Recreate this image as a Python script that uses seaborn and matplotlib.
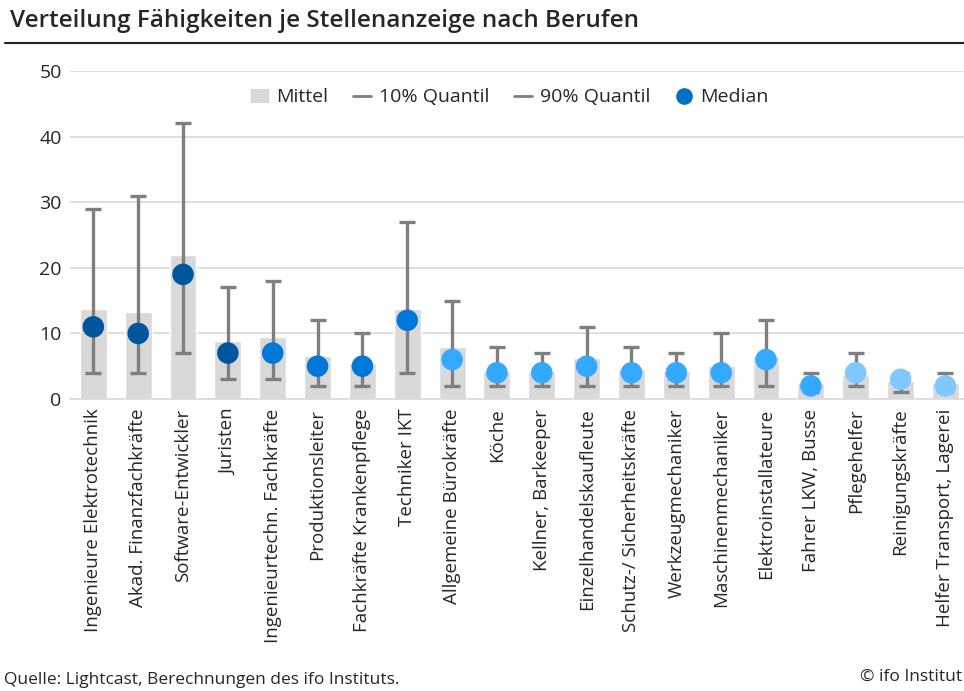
import seaborn as sns
import matplotlib.pyplot as plt
import matplotlib.lines as mlines
import matplotlib.patches as mpatches
import pandas as pd

berufe = ["Ingenieure Elektrotechnik", "Akad. Finanzfachkräfte", "Software-Entwickler",
          "Juristen", "Ingenieurtechn. Fachkräfte", "Produktionsleiter",
          "Fachkräfte Krankenpflege", "Techniker IKT", "Allgemeine Bürokräfte", "Köche",
          "Kellner, Barkeeper", "Einzelhandelskaufleute", "Schutz-/ Sicherheitskräfte",
          "Werkzeugmechaniker", "Maschinenmechaniker", "Elektroinstallateure",
          "Fahrer LKW, Busse", "Pflegehelfer", "Reinigungskräfte", "Helfer Transport, Lagerei"]
mittel = [13.7, 13.2, 22.0, 8.8, 9.5, 6.5, 5.5, 13.7, 7.9, 4.3,
          4.2, 6.2, 4.5, 4.3, 5.1, 6.6, 2.5, 3.7, 2.8, 2.5]
q10 = [4, 4, 7, 3, 3, 2, 2, 4, 2, 2, 2, 2, 2, 2, 2, 2, 1, 2, 1, 1]
q90 = [29, 31, 42, 17, 18, 12, 10, 27, 15, 8, 7, 11, 8, 7, 10, 12, 4, 7, 4, 4]
median = [11, 10, 19, 7, 7, 5, 5, 12, 6, 4, 4, 5, 4, 4, 4, 6, 2, 4, 3, 2]
gruppe = ["a"] * 4 + ["b"] * 4 + ["c"] * 9 + ["d"] * 3

farben = {"a": "#00569c", "b": "#0078d7", "c": "#33aaff", "d": "#80c8ff"}
grau = "#7f7f7f"

df = pd.DataFrame({"Beruf": berufe, "Mittel": mittel, "q10": q10, "q90": q90,
                   "Median": median, "Gruppe": gruppe})

sns.set_style("white")
plt.rcParams['font.family'] = ['Open Sans', 'DejaVu Sans']

fig = plt.figure(figsize=(9.64, 6.91), dpi=100)
ax = fig.add_axes([70 / 964, 1 - 399 / 691, 1 - 70 / 964 + 0.004, 328 / 691])

sns.barplot(data=df, x="Beruf", y="Mittel", color="#d9d9d9", width=0.6,
            saturation=1, ax=ax, zorder=2)
pos = range(len(berufe))
ax.errorbar(pos, df["q10"], yerr=[[0] * len(berufe), df["q90"] - df["q10"]],
            fmt="none", ecolor=grau, elinewidth=2.4, capsize=6, capthick=2.4, zorder=3)
sns.scatterplot(data=df, x="Beruf", y="Median", hue="Gruppe", palette=farben,
                s=240, edgecolor="none", legend=False, ax=ax, zorder=4)

ax.set_ylim(0, 50)
ax.set_xlim(-0.52, len(berufe) - 0.5)
ax.set_yticks(range(0, 51, 10))
ax.yaxis.grid(True, color="#d9d9d9", linewidth=1.2, zorder=0)
ax.set_axisbelow(True)
for s in ["top", "right", "left"]:
    ax.spines[s].set_visible(False)
ax.spines["bottom"].set_color("#d9d9d9")
ax.spines["bottom"].set_linewidth(1.2)
ax.set_xlabel("")
ax.set_ylabel("")
ax.tick_params(axis="y", labelsize=14, pad=6, length=0)
ax.tick_params(axis="x", labelsize=13.5, length=0, pad=7)
plt.setp(ax.get_xticklabels(), rotation=90)

handles = [
    mpatches.Patch(color="#d9d9d9", label="Mittel"),
    mlines.Line2D([], [], color=grau, linewidth=2, label="10% Quantil"),
    mlines.Line2D([], [], color=grau, linewidth=2, label="90% Quantil"),
    mlines.Line2D([], [], color="#0070c0", marker="o", linestyle="none",
                  markersize=11, label="Median"),
]
ax.legend(handles=handles, loc="upper center", bbox_to_anchor=(0.49, 1.0), ncol=4,
          frameon=False, fontsize=14, handlelength=0.9, handletextpad=0.4,
          columnspacing=1.3)

fig.text(10 / 964, 1 - 21 / 691, "Verteilung Fähigkeiten je Stellenanzeige nach Berufen",
         fontsize=17.5, fontweight="semibold", va="center", ha="left")
fig.add_artist(mlines.Line2D([5 / 964, 1], [1 - 43 / 691, 1 - 43 / 691],
                             color="#222222", linewidth=1.5))
fig.text(4 / 964, 1 - 680 / 691, "Quelle: Lightcast, Berechnungen des ifo Instituts.",
         fontsize=12.5, va="center", ha="left")
fig.text(0.998, 1 - 677 / 691, "© ifo Institut", fontsize=12.5, va="center", ha="right")

plt.savefig("out.png", dpi=100)
plt.close()
